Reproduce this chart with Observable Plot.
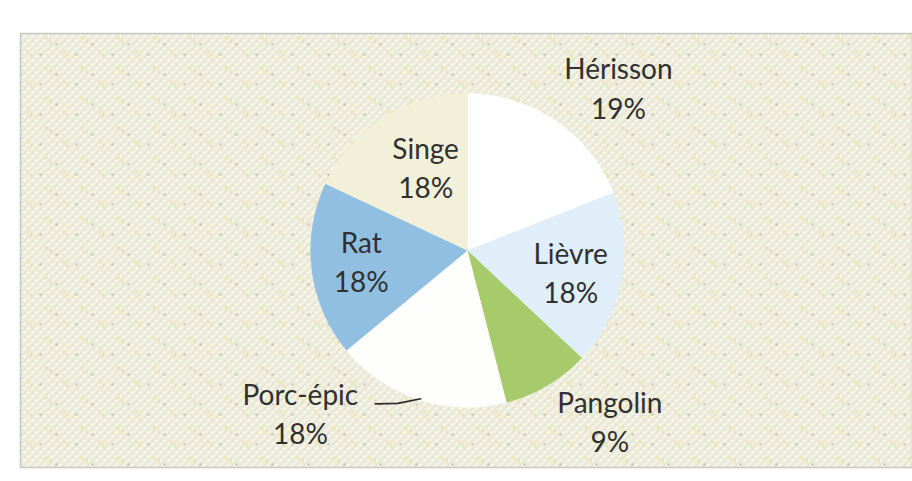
<!DOCTYPE html>
<html><head><meta charset="utf-8">
<script src="https://cdn.jsdelivr.net/npm/d3@7"></script>
<script src="https://cdn.jsdelivr.net/npm/@observablehq/plot@0.6"></script>
<style>html,body{margin:0;padding:0;background:#fff;}#chart{width:912px;height:481px;}</style>
</head><body><div id="chart"></div>
<script>
// ---- data ----
const categories = ["Hérisson", "Lièvre", "Pangolin", "Porc-épic", "Rat", "Singe"];
const shares = [19, 18, 9, 18, 18, 18];
const percentLabels = ["19%", "18%", "9%", "18%", "18%", "18%"];
const sliceColors = ["#ffffff", "#dfeef9", "#a7cb6b", "#fefefc", "#91bfe2", "#f3f0d9"];

// ---- layout (not data) ----
const W = 912, H = 481;
const mL = 20, mT = 33, mB = 14, mR = 0;
const cx = 467, cy = 250, R = 157;
const xDomain = [(mL - cx) / R, (W - mR - cx) / R];
const yDomain = [(cy - (H - mB)) / R, (cy - mT) / R];
// label placement: angle nudge (deg) from slice mid-angle, radius in pie radii
const labelPlace = {
  "Hérisson": {da: 8.4, r: 1.42},
  "Lièvre": {da: 0.6, r: 0.67},
  "Pangolin": {da: -9.4, r: 1.41},
  "Porc-épic": {da: 28, r: 1.48},
  "Rat": {da: 2, r: 0.68},
  "Singe": {da: 6, r: 0.60}
};

const rows = categories.map((name, i) => ({name, value: shares[i], pct: percentLabels[i], color: sliceColors[i]}));
const arcs = d3.pie().sort(null).value(d => d.value)(rows);

const polar = (a, r) => ({x: Math.sin(a) * r, y: Math.cos(a) * r});

const slicePts = [];
for (const a of arcs) {
  slicePts.push({name: a.data.name, color: a.data.color, x: 0, y: 0});
  const n = 80;
  for (let k = 0; k <= n; k++) {
    const t = a.startAngle + (a.endAngle - a.startAngle) * k / n;
    slicePts.push({name: a.data.name, color: a.data.color, ...polar(t, 1)});
  }
}

const labels = arcs.map(a => {
  const mid = (a.startAngle + a.endAngle) / 2;
  const p = labelPlace[a.data.name];
  return {text: a.data.name + "\n" + a.data.pct, ...polar(mid + p.da * Math.PI / 180, p.r)};
});

// leader line for Porc-épic
const pe = arcs.find(a => a.data.name === "Porc-épic");
const peMid = (pe.startAngle + pe.endAngle) / 2;
const deg = Math.PI / 180;
const leader = [polar(peMid - 0.5 * deg, 0.99), polar(peMid + 6.5 * deg, 1.07), polar(peMid + 13 * deg, 1.14)];

const svg = Plot.plot({
  width: W, height: H,
  marginLeft: mL, marginTop: mT, marginBottom: mB, marginRight: mR,
  x: {domain: xDomain, axis: null},
  y: {domain: yDomain, axis: null},
  color: {type: "identity"},
  style: {background: "#ffffff"},
  marks: [
    Plot.frame({fill: "url(#weave)", stroke: "none"}),
    Plot.frame({fill: "url(#specks)", stroke: "#c8c8c4", strokeWidth: 1.5}),
    Plot.line(slicePts, {x: "x", y: "y", z: "name", fill: "color", stroke: "none"}),
    Plot.line(leader, {x: "x", y: "y", stroke: "#2a2a2a", strokeWidth: 1.6}),
    Plot.text(labels, {x: "x", y: "y", text: "text", fontSize: 28, fontFamily: "Lato", fill: "#303030", lineHeight: 1.4})
  ]
});

d3.select(svg).insert("defs", ":first-child").html(`
  <pattern id="weave" width="8" height="8" patternUnits="userSpaceOnUse">
    <rect width="8" height="8" fill="#f5f3e4"/>
    <path d="M0,8 L8,0 M-2,2 L2,-2 M6,10 L10,6" stroke="#dad8c8" stroke-width="1.1"/>
    <path d="M1,1 L3,3 M5,5 L7,7" stroke="#e2e0cf" stroke-width="1"/>
  </pattern>
  <pattern id="specks" width="36" height="30" patternUnits="userSpaceOnUse">
    <rect x="8" y="6" width="3" height="3" fill="#ece2a4" opacity="0.8"/>
    <rect x="13" y="9" width="2" height="4" fill="#e8dea2" opacity="0.7"/>
    <rect x="26" y="20" width="3" height="3" fill="#ece2a4" opacity="0.8"/>
    <rect x="30" y="23" width="2" height="4" fill="#e8dea2" opacity="0.7"/>
    <circle cx="20" cy="14" r="0.9" fill="#a8a698"/>
    <circle cx="4" cy="24" r="0.9" fill="#a8a698"/>
  </pattern>`);

document.getElementById("chart").appendChild(svg);
</script>
</body></html>
